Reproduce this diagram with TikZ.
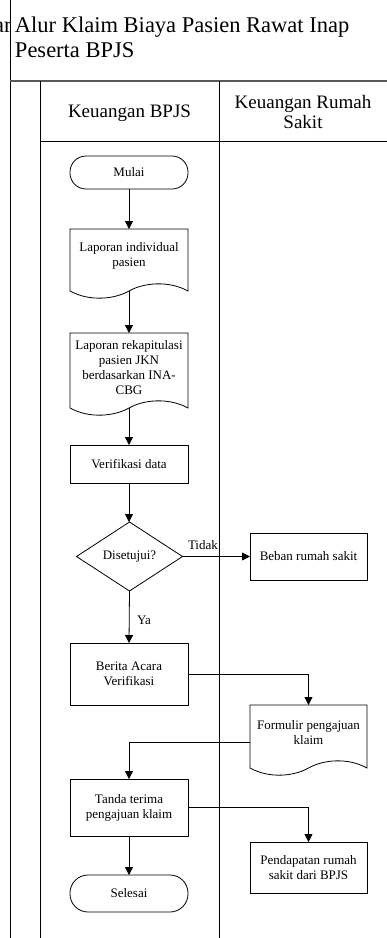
\documentclass[tikz,border=0pt]{standalone}
\usepackage{fontspec}
\setmainfont{Liberation Serif}
\usetikzlibrary{shapes.geometric,arrows.meta}
\begin{document}
\begin{tikzpicture}[x=1pt,y=-1pt,
  every node/.style={inner sep=0pt, outer sep=0pt},
  boxtext/.style={font=\fontsize{13}{15}\selectfont, align=center},
  proc/.style={draw, line width=0.8pt, minimum width=118pt, boxtext},
  term/.style={draw, line width=0.8pt, minimum width=118pt, rounded corners=16pt, boxtext},
  docshape/.style={minimum width=118pt},
  dec/.style={draw, line width=0.8pt, diamond, aspect=1.536, minimum width=106pt, minimum height=69pt, boxtext},
  flow/.style={line width=0.8pt, -{Triangle[length=8pt,width=8pt]}},
  lane/.style={line width=0.8pt},
  lbl/.style={font=\fontsize{13}{15}\selectfont}
]
\useasboundingbox (0,0) rectangle (387,938);

% frame
\draw[lane] (10,0) -- (10,938);
\draw[line width=1.6pt, black!65] (10,81) -- (387,81);
\draw[lane] (40,81) -- (40,938);
\draw[lane] (219,81) -- (219,938);
\draw[lane] (40,141) -- (387,141);

% clipped fragment at left edge
\begin{scope}
\clip (0,0) rectangle (9.6,60);
\node[anchor=base east, font=\fontsize{22.5}{25}\selectfont] (frag) at (11.5,32) {ar};
\end{scope}

% title
\node[anchor=base west, font=\fontsize{22.5}{25}\selectfont] (title1) at (15,32) {Alur Klaim Biaya Pasien Rawat Inap};
\node[anchor=base west, font=\fontsize{22.5}{25}\selectfont] (title2) at (15,57) {Peserta BPJS};

% lane headings
\node[font=\fontsize{19}{20}\selectfont] (h1) at (129.5,113) {Keuangan BPJS};
\node[font=\fontsize{19}{20}\selectfont, align=center] (h2) at (303,112) {Keuangan Rumah\\Sakit};

% nodes
\node[term, minimum height=33pt] (mulai) at (129,172.5) {Mulai};

\node[docshape, minimum height=62pt] (lap1) at (129,260) {};
\node[boxtext] (lap1t) at (129,256) {Laporan individual\\pasien};

\node[docshape, minimum height=75pt] (lap2) at (129,370.5) {};
\node[boxtext] (lap2t) at (129,367.5) {Laporan rekapitulasi\\pasien JKN\\berdasarkan INA-\\CBG};

\node[proc, minimum height=38pt] (ver) at (129,464) {Verifikasi data};

\node[dec] (dia) at (129.5,556.5) {Disetujui?};

\node[proc, minimum width=117pt, minimum height=47pt] (beban) at (308.5,556.5) {Beban rumah sakit};

\node[proc, minimum height=62pt] (berita) at (129,674) {Berita Acara\\Verifikasi};

\node[docshape, minimum width=117pt, minimum height=63pt] (form) at (308.5,736.5) {};
\node[boxtext] (formt) at (308.5,732.5) {Formulir pengajuan\\klaim};

\node[proc, minimum height=57pt] (tanda) at (129,807.5) {Tanda terima\\pengajuan klaim};

\node[proc, minimum width=117pt, minimum height=51pt] (pend) at (308.5,867.5) {Pendapatan rumah\\sakit dari BPJS};

\node[term, minimum height=37pt, rounded corners=18pt] (selesai) at (129,893.5) {Selesai};

% document outlines
\foreach \d in {lap1,lap2,form}{
  \draw[line width=0.8pt] (\d.south west) -- (\d.north west) -- (\d.north east) -- (\d.south east)
    .. controls +(-20,-11) and +(14,-8) .. (\d.south)
    .. controls +(-14,8) and +(20,11) .. (\d.south west);
}

% connectors
\draw[flow] (mulai.south) -- (lap1.north);
\draw[flow] (lap1.south) -- (lap2.north);
\draw[flow] (lap2.south) -- (ver.north);
\draw[flow] (ver.south) -- (129,522);
\draw[flow] (dia.east) -- (beban.west);
\node[lbl, anchor=base west] (tidak) at (188,549) {Tidak};
\draw[flow] (dia.south) -- (berita.north);
\node[lbl, anchor=west] (ya) at (137,620) {Ya};
\draw[flow] (berita.east) -| (form.north);
\draw[flow] ([yshift=-5.5pt]form.west) -| (tanda.north);
\draw[flow] (tanda.east) -| (pend.north);
\draw[flow] (tanda.south) -- (selesai.north);
\end{tikzpicture}
\end{document}
